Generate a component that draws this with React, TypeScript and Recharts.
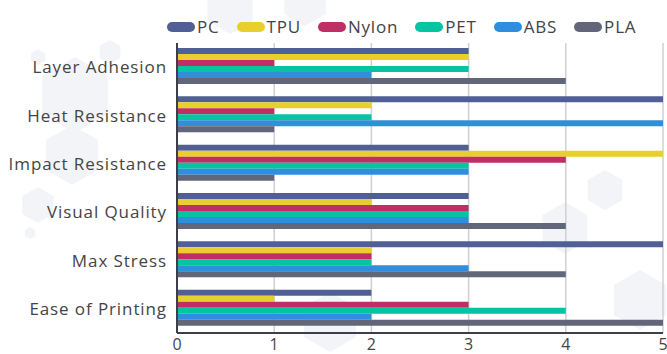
import { BarChart, Bar, XAxis, YAxis, CartesianGrid } from "recharts";

const criteria = [
  "Layer Adhesion",
  "Heat Resistance",
  "Impact Resistance",
  "Visual Quality",
  "Max Stress",
  "Ease of Printing",
];

const pc = [3, 5, 3, 3, 5, 2];
const tpu = [3, 2, 5, 2, 2, 1];
const nylon = [1, 1, 4, 3, 2, 3];
const pet = [3, 2, 3, 3, 2, 4];
const abs = [2, 5, 3, 3, 3, 2];
const pla = [4, 1, 1, 4, 4, 5];

const xTicks = [0, 1, 2, 3, 4, 5];

const materials = [
  { key: "PC", values: pc, color: "#505f96" },
  { key: "TPU", values: tpu, color: "#e8cf2d" },
  { key: "Nylon", values: nylon, color: "#bf2e64" },
  { key: "PET", values: pet, color: "#05c4a1" },
  { key: "ABS", values: abs, color: "#2f8ede" },
  { key: "PLA", values: pla, color: "#61667a" },
];

const data = criteria.map((name, i) => {
  const row: Record<string, string | number> = { name };
  materials.forEach((m) => (row[m.key] = m.values[i]));
  return row;
});

const font = "'Open Sans', sans-serif";

function hex(cx: number, cy: number, r: number) {
  const pts = [];
  for (let k = 0; k < 6; k++) {
    const a = (Math.PI / 3) * k + Math.PI / 6;
    pts.push(`${cx + r * Math.cos(a)},${cy + r * Math.sin(a)}`);
  }
  return pts.join(" ");
}

// faint decorative hexagons in the background
const hexes = [
  [75, 95, 38],
  [38, 57, 8],
  [110, 52, 12],
  [72, 155, 30],
  [38, 205, 18],
  [30, 233, 6],
  [230, 8, 26],
  [305, 2, 24],
  [605, 190, 20],
  [565, 228, 26],
  [640, 300, 30],
  [330, 322, 30],
];

function LegendBox() {
  return (
    <div
      style={{
        position: "absolute",
        left: 167,
        top: 16,
        display: "flex",
        gap: 17,
        fontFamily: font,
        fontSize: 17,
        letterSpacing: 0.8,
        color: "#444",
        lineHeight: "22px",
      }}
    >
      {materials.map((m) => (
        <div key={m.key} style={{ display: "flex", alignItems: "center", gap: 2 }}>
          <span style={{ width: 28, height: 10, borderRadius: 5, background: m.color, display: "inline-block" }} />
          <span>{m.key}</span>
        </div>
      ))}
    </div>
  );
}

export default function App() {
  return (
    <div style={{ position: "absolute", left: 0, top: 0, width: 667, height: 354, background: "#fff" }}>
      <svg width={667} height={354} style={{ position: "absolute", left: 0, top: 0 }}>
        {hexes.map(([x, y, r], i) => (
          <polygon key={i} points={hex(x, y, r)} fill="#f3f4f7" />
        ))}
      </svg>
      <BarChart
        width={667}
        height={354}
        data={data}
        layout="vertical"
        margin={{ top: 43, right: 4, bottom: 0, left: 0 }}
        barCategoryGap={5}
        barGap={0}
        style={{ position: "absolute", left: 0, top: 0 }}
      >
        <CartesianGrid horizontal={false} stroke="#cfd0d4" strokeWidth={1.5} />
        <XAxis
          type="number"
          domain={[0, 5]}
          ticks={xTicks}
          height={21}
          tickLine={false}
          axisLine={{ stroke: "#3c3f4a", strokeWidth: 2 }}
          tick={{ fill: "#444", fontSize: 16, fontFamily: font }}
          tickMargin={0}
        />
        <YAxis
          type="category"
          dataKey="name"
          width={177}
          tickLine={false}
          axisLine={{ stroke: "#3c3f4a", strokeWidth: 2 }}
          tick={{ fill: "#444", fontSize: 17, fontFamily: font, letterSpacing: 0.9 }}
          tickMargin={4}
        />
        {materials.map((m) => (
          <Bar key={m.key} dataKey={m.key} fill={m.color} isAnimationActive={false} />
        ))}
      </BarChart>
      <LegendBox />
    </div>
  );
}
